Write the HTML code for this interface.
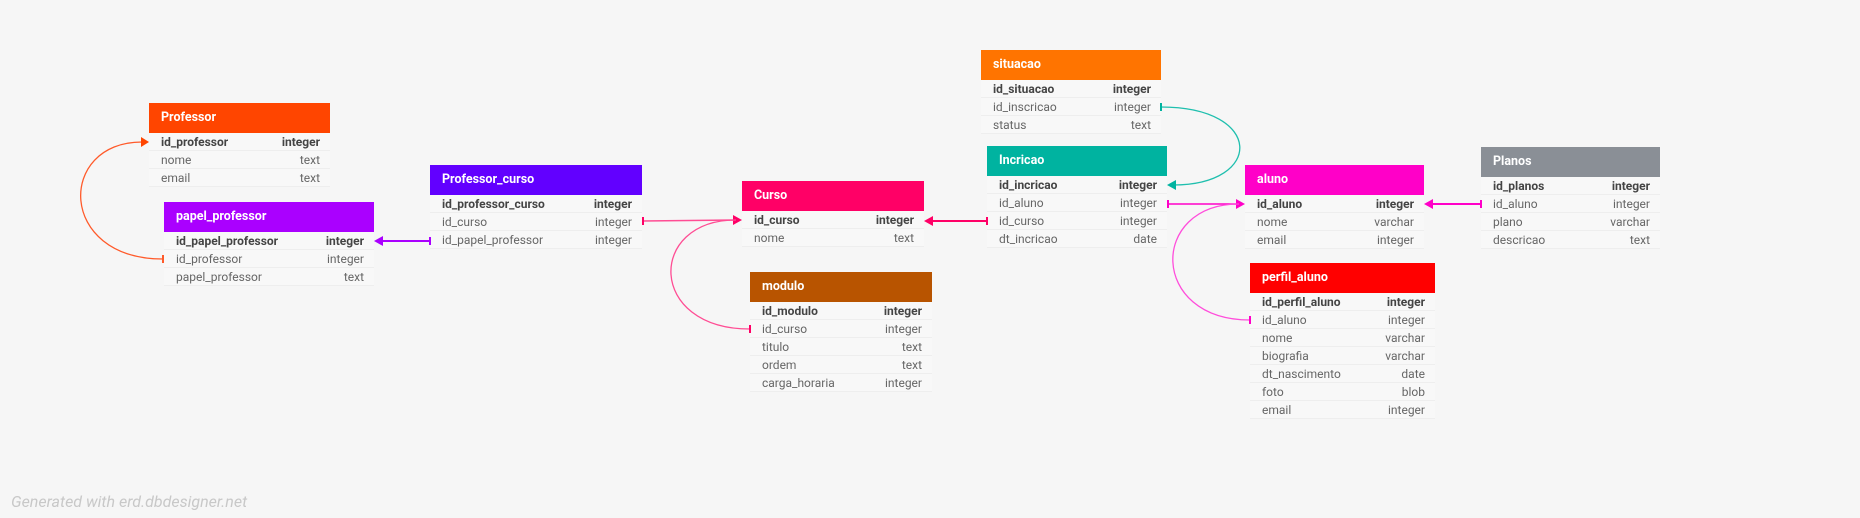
<!DOCTYPE html>
<html><head><meta charset="utf-8"><style>
html,body{margin:0;padding:0}
body{width:1860px;height:518px;background:#f6f6f6;position:relative;overflow:hidden;font-family:"Roboto","Liberation Sans",sans-serif}
.t{position:absolute;background:#f8f8f8}
.h{height:30px;line-height:30px;color:#fff;font-weight:bold;font-size:12.5px;padding-left:12px;box-sizing:border-box}
.r{height:18px;line-height:18px;font-size:12px;color:#666;padding:0 10px 0 12px;display:flex;justify-content:space-between;border-bottom:1px solid #eeeeee;box-sizing:border-box}
.r.b{font-weight:bold;color:#444}
svg{position:absolute;left:0;top:0}
.f{position:absolute;left:11px;top:492px;font-size:16px;font-style:italic;color:#c8c8c8}
</style></head><body>

<div class="t" style="left:149px;top:103px;width:181px"><div class="h" style="background:#ff4500">Professor</div>
<div class="r b"><span>id_professor</span><span>integer</span></div><div class="r"><span>nome</span><span>text</span></div><div class="r"><span>email</span><span>text</span></div></div>

<div class="t" style="left:164px;top:202px;width:210px"><div class="h" style="background:#aa00ff">papel_professor</div>
<div class="r b"><span>id_papel_professor</span><span>integer</span></div><div class="r"><span>id_professor</span><span>integer</span></div><div class="r"><span>papel_professor</span><span>text</span></div></div>

<div class="t" style="left:430px;top:165px;width:212px"><div class="h" style="background:#6200ff">Professor_curso</div>
<div class="r b"><span>id_professor_curso</span><span>integer</span></div><div class="r"><span>id_curso</span><span>integer</span></div><div class="r"><span>id_papel_professor</span><span>integer</span></div></div>

<div class="t" style="left:742px;top:181px;width:182px"><div class="h" style="background:#ff0066">Curso</div>
<div class="r b"><span>id_curso</span><span>integer</span></div><div class="r"><span>nome</span><span>text</span></div></div>

<div class="t" style="left:750px;top:272px;width:182px"><div class="h" style="background:#b85400">modulo</div>
<div class="r b"><span>id_modulo</span><span>integer</span></div><div class="r"><span>id_curso</span><span>integer</span></div><div class="r"><span>titulo</span><span>text</span></div><div class="r"><span>ordem</span><span>text</span></div><div class="r"><span>carga_horaria</span><span>integer</span></div></div>

<div class="t" style="left:981px;top:50px;width:180px"><div class="h" style="background:#ff7400">situacao</div>
<div class="r b"><span>id_situacao</span><span>integer</span></div><div class="r"><span>id_inscricao</span><span>integer</span></div><div class="r"><span>status</span><span>text</span></div></div>

<div class="t" style="left:987px;top:146px;width:180px"><div class="h" style="background:#00b3a0">Incricao</div>
<div class="r b"><span>id_incricao</span><span>integer</span></div><div class="r"><span>id_aluno</span><span>integer</span></div><div class="r"><span>id_curso</span><span>integer</span></div><div class="r"><span>dt_incricao</span><span>date</span></div></div>

<div class="t" style="left:1245px;top:165px;width:179px"><div class="h" style="background:#ff00c8">aluno</div>
<div class="r b"><span>id_aluno</span><span>integer</span></div><div class="r"><span>nome</span><span>varchar</span></div><div class="r"><span>email</span><span>integer</span></div></div>

<div class="t" style="left:1481px;top:147px;width:179px"><div class="h" style="background:#8a8f96">Planos</div>
<div class="r b"><span>id_planos</span><span>integer</span></div><div class="r"><span>id_aluno</span><span>integer</span></div><div class="r"><span>plano</span><span>varchar</span></div><div class="r"><span>descricao</span><span>text</span></div></div>

<div class="t" style="left:1250px;top:263px;width:185px"><div class="h" style="background:#ff0000">perfil_aluno</div>
<div class="r b"><span>id_perfil_aluno</span><span>integer</span></div><div class="r"><span>id_aluno</span><span>integer</span></div><div class="r"><span>nome</span><span>varchar</span></div><div class="r"><span>biografia</span><span>varchar</span></div><div class="r"><span>dt_nascimento</span><span>date</span></div><div class="r"><span>foto</span><span>blob</span></div><div class="r"><span>email</span><span>integer</span></div></div>

<svg width="1860" height="518" fill="none" stroke-width="1.3">
<!-- professor loop -->
<path d="M163 259 C57 259 57 142 142 142" stroke="#ff5a2a"/>
<polygon points="149,142 141,137 141,147" fill="#ff4500"/>
<line x1="163" y1="255" x2="163" y2="263" stroke="#ff5a2a" stroke-width="2"/>
<!-- professor_curso -> papel -->
<line x1="430" y1="241" x2="380" y2="241" stroke="#aa00ff" stroke-width="2"/>
<polygon points="374,241 383,236 383,246" fill="#aa00ff"/>
<line x1="430" y1="237" x2="430" y2="245" stroke="#aa00ff" stroke-width="2"/>
<!-- professor_curso -> curso -->
<line x1="642" y1="221" x2="736" y2="220" stroke="#ff4d94" stroke-width="1.5"/>
<polygon points="742,220 733,215 733,225" fill="#ff0066"/>
<line x1="643" y1="217" x2="643" y2="225" stroke="#ff0066" stroke-width="2"/>
<!-- modulo loop -->
<path d="M750 329 C647 329 647 220 736 220" stroke="#ff4d94"/>
<line x1="750" y1="325" x2="750" y2="333" stroke="#ff0066" stroke-width="2"/>
<!-- incricao -> curso -->
<line x1="987" y1="221" x2="930" y2="221" stroke="#ff0066" stroke-width="2"/>
<polygon points="924,221 933,216 933,226" fill="#ff0066"/>
<line x1="987" y1="217" x2="987" y2="225" stroke="#ff0066" stroke-width="2"/>
<!-- situacao loop -->
<path d="M1161 107 C1264 107 1264 185 1173 185" stroke="#1fbfae"/>
<polygon points="1167,185 1176,180 1176,190" fill="#00b3a0"/>
<line x1="1161" y1="103" x2="1161" y2="111" stroke="#00b3a0" stroke-width="2"/>
<!-- incricao -> aluno -->
<line x1="1168" y1="204" x2="1239" y2="204" stroke="#ff00c8" stroke-width="1.5"/>
<polygon points="1245,204 1236,199 1236,209" fill="#ff00c8"/>
<line x1="1168" y1="200" x2="1168" y2="208" stroke="#ff00c8" stroke-width="2"/>
<!-- perfil loop -->
<path d="M1250 320 C1149 320 1149 204 1239 204" stroke="#ff4ddb"/>
<line x1="1250" y1="316" x2="1250" y2="324" stroke="#ff00c8" stroke-width="2"/>
<!-- planos -> aluno -->
<line x1="1481" y1="204" x2="1430" y2="204" stroke="#ff00c8" stroke-width="2"/>
<polygon points="1424,204 1433,199 1433,209" fill="#ff00c8"/>
<line x1="1481" y1="200" x2="1481" y2="208" stroke="#ff00c8" stroke-width="2"/>
</svg>

<div class="f">Generated with erd.dbdesigner.net</div>
</body></html>
